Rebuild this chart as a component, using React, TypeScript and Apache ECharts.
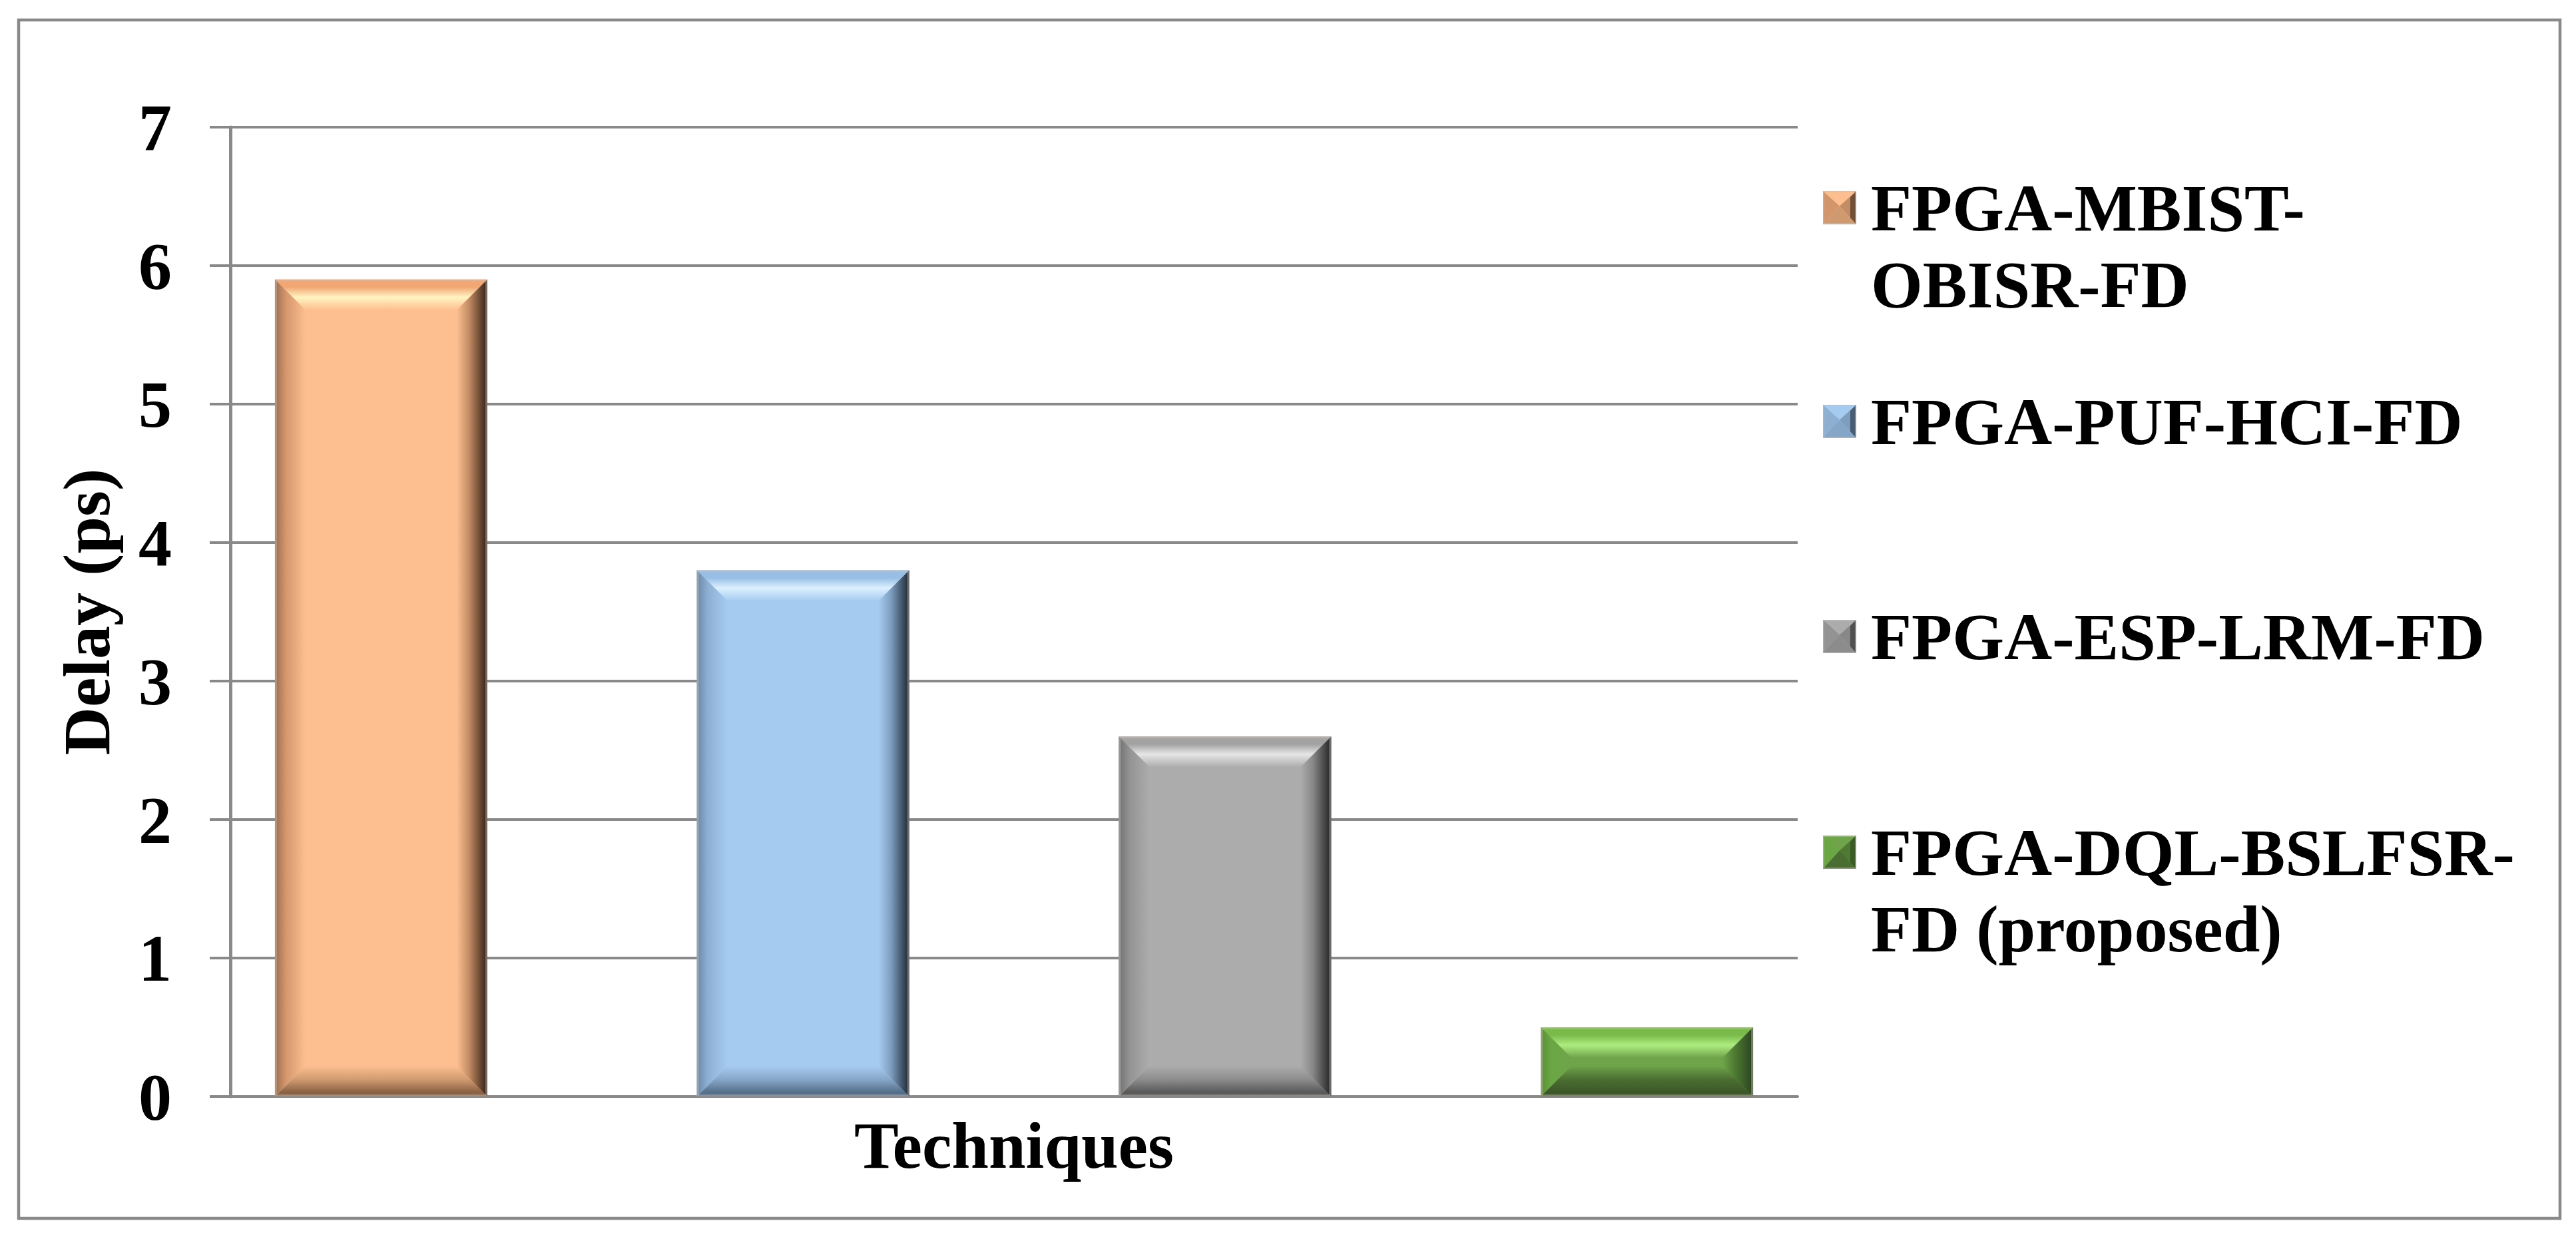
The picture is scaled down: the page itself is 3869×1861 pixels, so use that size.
import React, { useEffect, useRef } from "react";
import * as echarts from "echarts";

// ---------- data ----------
const CATEGORIES = ["Techniques"];
const SERIES_NAMES = [
  "FPGA-MBIST-OBISR-FD",
  "FPGA-PUF-HCI-FD",
  "FPGA-ESP-LRM-FD",
  "FPGA-DQL-BSLFSR-FD (proposed)",
];
const DELAY_VALUES = [5.9, 3.8, 2.6, 0.5];
const Y_TICKS = [0, 1, 2, 3, 4, 5, 6, 7];

// ---------- styles ----------
const FONT = "'Liberation Serif', 'Times New Roman', Times, serif";
const GRID_COLOR = "#898989";

type Palette = {
  base: string; topEdge: string; highlight: string;
  leftEdge: string; leftMid: string;
  rightMid: string; rightEdge: string;
  bottomMid: string; bottomEdge: string;
};

const BAR_PALETTES: Palette[] = [
  { base: "#FDBF8F", topEdge: "#F2A673", highlight: "#FFF4C2", leftEdge: "#9A6C4E", leftMid: "#D3966C", rightMid: "#C48C64", rightEdge: "#301F14", bottomMid: "#D09A70", bottomEdge: "#8C6246" },
  { base: "#A6CBF0", topEdge: "#98BEE6", highlight: "#DCF0FF", leftEdge: "#6A88A8", leftMid: "#8DAFD2", rightMid: "#7E9EC0", rightEdge: "#1C2632", bottomMid: "#86A6C8", bottomEdge: "#56708C" },
  { base: "#ACACAC", topEdge: "#A2A2A2", highlight: "#E6E6E6", leftEdge: "#707070", leftMid: "#939393", rightMid: "#888888", rightEdge: "#222222", bottomMid: "#8C8C8C", bottomEdge: "#5A5A5A" },
  { base: "#6FA44A", topEdge: "#79BA4B", highlight: "#AEEC80", leftEdge: "#5A9035", leftMid: "#6AA744", rightMid: "#4E7A32", rightEdge: "#2A4220", bottomMid: "#4A6E31", bottomEdge: "#3C5828" },
];

// layout constants
const BAR_WIDTH_RATIO = 319 / 2354;
const BAR_STEP_RATIO = 633.7 / 2354;
const BEVEL = 46;
const LEGEND_LEFT = 2738;
const LEGEND_ANCHORS = [312, 633, 956, 1280];
const LEGEND_WRAP = [700, 0, 0, 1000];
const LEGEND_LINES = [2, 1, 1, 2];
const LEGEND_FONT = 100;
const LEGEND_LINE_H = 115;
const ICON = 50;

function legendIcon(p: Palette, totalH: number): string {
  const s = ICON, c = ICON / 2, a = c * 0.9;
  const svg =
    `<svg xmlns='http://www.w3.org/2000/svg' width='${s}' height='${totalH}' viewBox='0 0 ${s} ${totalH}'>` +
    `<rect width='${s}' height='${s}' fill='${p.base}'/>` +
    `<polygon points='0,0 ${s},0 ${c},${a}' fill='${p.base}'/>` +
    `<polygon points='0,0 ${c},${a} 0,${s}' fill='${p.leftMid}'/>` +
    `<polygon points='${s},0 ${s},${s} ${c},${a}' fill='${p.rightMid}'/>` +
    `<polygon points='${s * 0.82},${s * 0.18} ${s},0 ${s},${s} ${s * 0.82},${s * 0.82}' fill='${p.rightEdge}' fill-opacity='0.55'/>` +
    `<polygon points='0,${s} ${s},${s} ${c},${a}' fill='${p.bottomMid}'/>` +
    `<rect x='1' y='1' width='${s - 2}' height='${s - 2}' fill='none' stroke='rgba(200,190,185,0.5)' stroke-width='2'/>` +
    `</svg>`;
  return "image://data:image/svg+xml;charset=utf-8," + encodeURIComponent(svg);
}

function lg(x: number, y: number, x2: number, y2: number, stops: [number, string][]) {
  return new echarts.graphic.LinearGradient(
    x, y, x2, y2,
    stops.map(([offset, color]) => ({ offset, color }))
  );
}

function renderBevelBar(params: any, api: any) {
  const si = params.seriesIndex;
  const p = BAR_PALETTES[si];
  const cat = api.value(0);
  const v = api.value(1);
  const base = api.coord([cat, 0]);
  const top = api.coord([cat, v]);
  const band = api.size([1, 0])[0];
  const w = band * BAR_WIDTH_RATIO;
  const step = band * BAR_STEP_RATIO;
  const cx = base[0] + (si - (SERIES_NAMES.length - 1) / 2) * step;
  const x0 = cx - w / 2, x1 = cx + w / 2;
  const y0 = top[1], y1 = base[1];
  const h = y1 - y0;
  const b = Math.min(BEVEL, h / 2, w / 2);

  return {
    type: "group",
    children: [
      { type: "rect", shape: { x: x0, y: y0, width: w, height: h }, style: { fill: p.base } },
      {
        type: "polygon",
        shape: { points: [[x0, y0], [x1, y0], [x1 - b, y0 + b], [x0 + b, y0 + b]] },
        style: { fill: lg(0, 0, 0, 1, [[0, p.topEdge], [0.25, p.topEdge], [0.58, p.highlight], [1, p.base]]) },
      },
      {
        type: "polygon",
        shape: { points: [[x0, y1], [x1, y1], [x1 - b, y1 - b], [x0 + b, y1 - b]] },
        style: { fill: lg(0, 0, 0, 1, [[0, p.base], [0.45, p.bottomMid], [0.85, p.bottomEdge], [1, p.bottomEdge]]) },
      },
      {
        type: "polygon",
        shape: { points: [[x0, y0], [x0 + b, y0 + b], [x0 + b, y1 - b], [x0, y1]] },
        style: { fill: lg(0, 0, 1, 0, [[0, p.leftEdge], [0.35, p.leftMid], [1, p.base]]) },
      },
      {
        type: "polygon",
        shape: { points: [[x1, y0], [x1, y1], [x1 - b, y1 - b], [x1 - b, y0 + b]] },
        style: { fill: lg(0, 0, 1, 0, [[0, p.base], [0.4, p.rightMid], [1, p.rightEdge]]) },
      },
      {
        type: "rect",
        shape: { x: x0 + 1.5, y: y0 + 1.5, width: w - 3, height: h - 3 },
        style: { fill: "none", stroke: "rgba(200,190,185,0.45)", lineWidth: 3 },
      },
    ],
  };
}

function buildOption(): any {
  const textBase = { fontFamily: FONT, fontWeight: "bold", color: "#000" };

  const legends = SERIES_NAMES.map((name, i) => {
    const lines = LEGEND_LINES[i];
    // icon box is extended downwards for two-line entries so that the
    // visible square lines up with the first text line
    const itemH = ICON + (lines - 1) * LEGEND_LINE_H;
    const bboxTopRel = Math.min(0, itemH / 2 - (lines * LEGEND_LINE_H) / 2);
    const textStyle: any = {
      ...textBase,
      fontSize: LEGEND_FONT,
      lineHeight: LEGEND_LINE_H,
      padding: [0, 0, 0, 17],
    };
    if (LEGEND_WRAP[i] > 0) {
      textStyle.width = LEGEND_WRAP[i];
      textStyle.overflow = "break";
    }
    return {
      data: [name],
      orient: "vertical",
      left: LEGEND_LEFT,
      top: LEGEND_ANCHORS[i] - ICON / 2 + bboxTopRel,
      padding: 0,
      itemGap: 0,
      itemWidth: ICON,
      itemHeight: itemH,
      icon: legendIcon(BAR_PALETTES[i], itemH),
      selectedMode: false,
      textStyle,
    };
  });

  return {
    animation: false,
    backgroundColor: "#ffffff",
    grid: { left: 346, right: 3869 - 2700, top: 191, bottom: 1861 - 1647, containLabel: false },
    graphic: [
      {
        type: "rect",
        shape: { x: 28, y: 30, width: 3845 - 28, height: 1830 - 30 },
        style: { fill: "none", stroke: GRID_COLOR, lineWidth: 4.5 },
        silent: true,
        z: 0,
      },
    ],
    legend: legends,
    xAxis: {
      type: "category",
      data: CATEGORIES,
      boundaryGap: true,
      axisLine: { show: true, lineStyle: { color: GRID_COLOR, width: 4 } },
      axisTick: { show: false },
      axisLabel: { ...textBase, fontSize: 100, lineHeight: 100, margin: 23 },
      splitLine: { show: false },
    },
    yAxis: {
      type: "value",
      min: Y_TICKS[0],
      max: Y_TICKS[Y_TICKS.length - 1],
      interval: Y_TICKS[1] - Y_TICKS[0],
      name: "Delay (ps)",
      nameLocation: "middle",
      nameGap: 166,
      nameTextStyle: { ...textBase, fontSize: 100, lineHeight: 100 },
      axisLine: { show: true, lineStyle: { color: GRID_COLOR, width: 5 } },
      axisTick: { show: true, inside: false, length: 31, lineStyle: { color: GRID_COLOR, width: 4 } },
      axisLabel: { ...textBase, fontSize: 100, margin: 88 },
      splitLine: { show: true, lineStyle: { color: GRID_COLOR, width: 4 } },
    },
    series: SERIES_NAMES.map((name, i) => ({
      type: "custom",
      name,
      renderItem: renderBevelBar,
      itemStyle: { color: BAR_PALETTES[i].base },
      encode: { x: 0, y: 1 },
      data: [[CATEGORIES[0], DELAY_VALUES[i]]],
      z: 3,
    })),
  };
}

export default function App() {
  const ref = useRef<HTMLDivElement>(null);
  useEffect(() => {
    const el = ref.current;
    if (!el) return;
    const chart = echarts.init(el, null, { renderer: "svg" });
    chart.setOption(buildOption());
    return () => {
      chart.dispose();
    };
  }, []);
  return (
    <div
      ref={ref}
      style={{ position: "fixed", left: 0, top: 0, width: 3869, height: 1861, background: "#ffffff" }}
    />
  );
}
